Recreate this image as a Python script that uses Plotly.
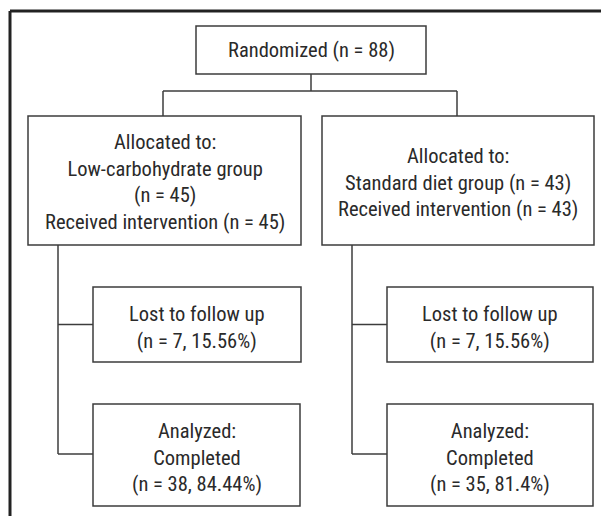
import plotly.graph_objects as go

# ---- content (text / counts) ----
total_n = 88
group_names = ["Low-carbohydrate group", "Standard diet group"]
allocated_n = [45, 43]
received_n = [45, 43]
lost_n = [7, 7]
lost_pct = ["15.56%", "15.56%"]
completed_n = [38, 35]
completed_pct = ["84.44%", "81.4%"]

top_label = f"Randomized (n = {total_n})"
alloc_labels = [
    f"Allocated to:<br>{group_names[0]}<br>(n = {allocated_n[0]})<br>Received intervention (n = {received_n[0]})",
    f"Allocated to:<br>{group_names[1]} (n = {allocated_n[1]})<br>Received intervention (n = {received_n[1]})",
]
lost_labels = [f"Lost to follow up<br>(n = {lost_n[i]}, {lost_pct[i]})" for i in range(2)]
comp_labels = [f"Analyzed:<br>Completed<br>(n = {completed_n[i]}, {completed_pct[i]})" for i in range(2)]

# ---- layout geometry (page pixel space, y downward) ----
W, H = 609, 516
PAD = 8  # default page body margin
top_box = (196, 26, 426, 74)
alloc_boxes = [(28, 116, 301, 245), (322, 116, 594, 245)]
lost_boxes = [(93, 287, 301, 362), (387, 287, 593, 362)]
comp_boxes = [(93, 404, 300, 506), (387, 404, 593, 506)]
spine_x = [58, 352]
alloc_text_y = [182, 182]

LINE = "#3c3c3c"
TXT = "#2a2a2a"
FONT = "Liberation Sans Narrow, Arial Narrow, Roboto Condensed, sans-serif"
FS = 20.5

shapes = []

def rect(b):
    shapes.append(dict(type="rect", xref="x", yref="y", x0=b[0], y0=b[1], x1=b[2], y1=b[3],
                       line=dict(color=LINE, width=1.5), fillcolor="white", layer="above"))

def seg(x0, y0, x1, y1, w=1.5, c=LINE):
    shapes.append(dict(type="line", xref="x", yref="y", x0=x0, y0=y0, x1=x1, y1=y1,
                       line=dict(color=c, width=w), layer="below"))

# outer frame (top and left edges visible)
seg(10, 11, W + 5, 11, w=3, c="#222222")
seg(10, 11, 10, H + 5, w=3, c="#222222")

# connectors
cx_top = (top_box[0] + top_box[2]) / 2
seg(cx_top, top_box[3], cx_top, 91)
c_left = 163
c_right = 457
seg(c_left, 91, c_right, 91)
seg(c_left, 91, c_left, alloc_boxes[0][1])
seg(c_right, 91, c_right, alloc_boxes[1][1])

for i in range(2):
    sx = spine_x[i]
    ly = (lost_boxes[i][1] + lost_boxes[i][3]) / 2
    cy = 454
    seg(sx, alloc_boxes[i][3], sx, cy)
    seg(sx, ly, lost_boxes[i][0], ly)
    seg(sx, cy, comp_boxes[i][0], cy)

rect(top_box)
for b in alloc_boxes + lost_boxes + comp_boxes:
    rect(b)

annotations = []

def label(text, x, y):
    annotations.append(dict(text=text, x=x, y=y, xref="x", yref="y", showarrow=False,
                            xanchor="center", yanchor="middle", align="center",
                            font=dict(family=FONT, size=FS, color=TXT)))

label(top_label, cx_top, 50)
for i in range(2):
    b = alloc_boxes[i]
    label(alloc_labels[i], (b[0] + b[2]) / 2, alloc_text_y[i])
    b = lost_boxes[i]
    label(lost_labels[i], (b[0] + b[2]) / 2, 327)
    b = comp_boxes[i]
    label(comp_labels[i], (b[0] + b[2]) / 2, 457)

fig = go.Figure()
fig.update_layout(
    width=W - PAD, height=H - PAD,
    margin=dict(l=0, r=0, t=0, b=0),
    paper_bgcolor="white", plot_bgcolor="white",
    xaxis=dict(range=[PAD, W], visible=False, fixedrange=True),
    yaxis=dict(range=[H, PAD], visible=False, fixedrange=True),
    shapes=shapes, annotations=annotations, showlegend=False,
)
fig.write_html("out.html", config={"displayModeBar": False})
